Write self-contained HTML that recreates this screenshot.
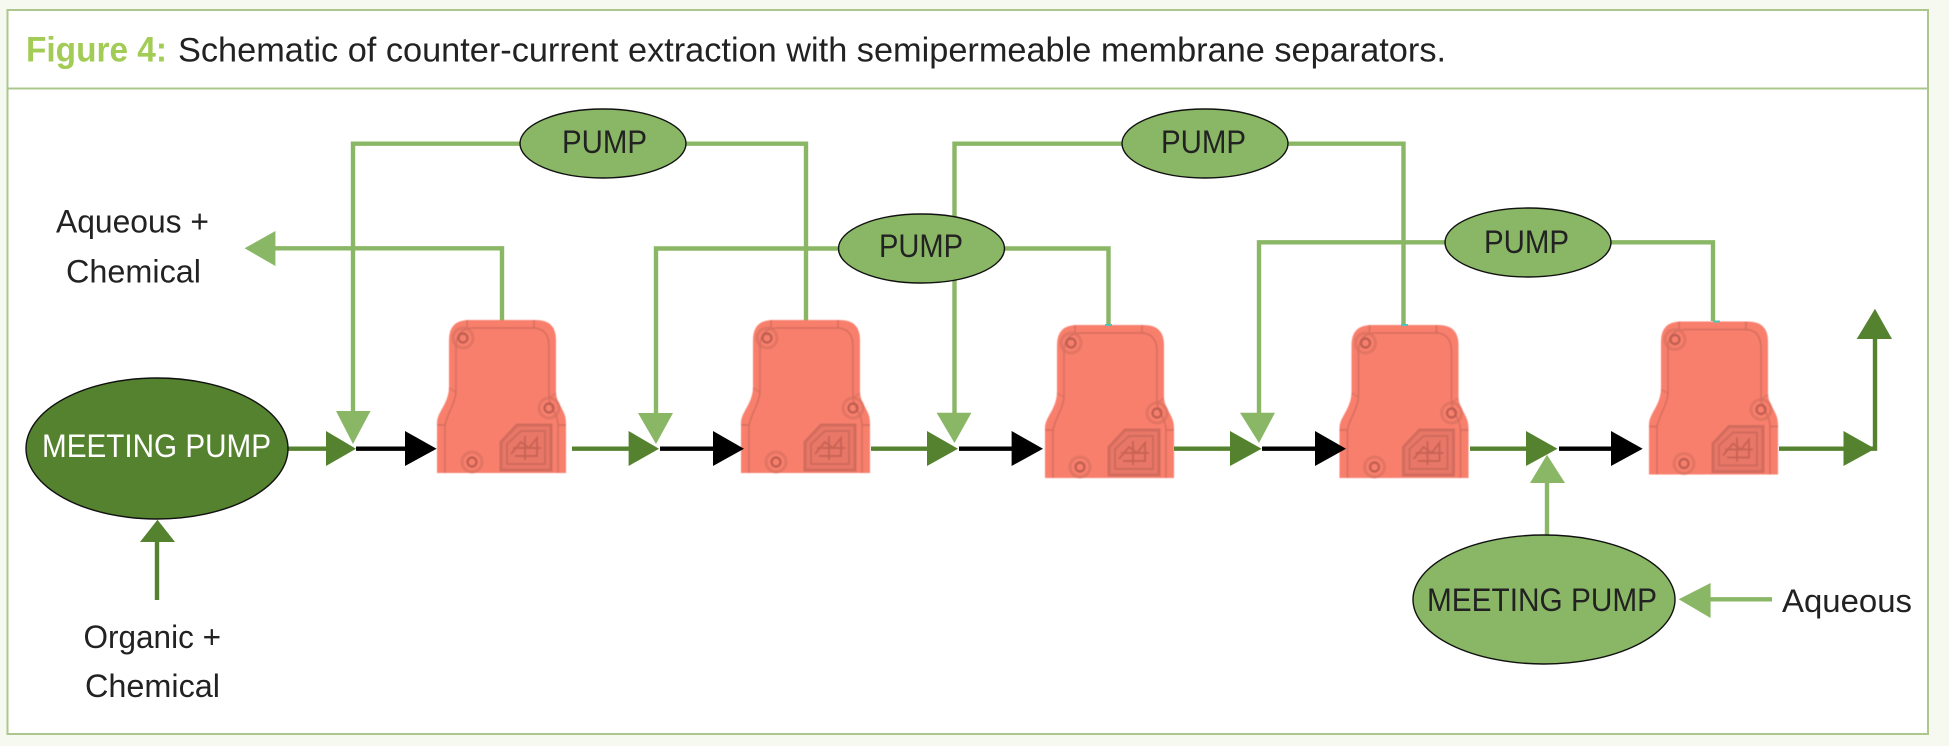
<!DOCTYPE html>
<html lang="en">
<head>
<meta charset="utf-8">
<title>Figure 4</title>
<style>
html,body{margin:0;padding:0;background:#f5f9ef;}
body{width:1949px;height:746px;overflow:hidden;}
svg{display:block;}
text{font-family:"Liberation Sans",sans-serif;fill:#222;font-size:32px;}
</style>
</head>
<body>
<svg xmlns="http://www.w3.org/2000/svg" width="1949" height="746" viewBox="0 0 1949 746">
<defs>
  <filter id="soft" x="-5%" y="-5%" width="110%" height="110%"><feGaussianBlur stdDeviation="0.6"/></filter>
  <g id="node" filter="url(#soft)">
    <path d="M0 153V103C0 92 11 85 12 68V20Q12 0 32 0H99Q119 0 119 20V73C120 85 129 90 129 103V153Z" fill="#f97f6d"/>
    <g fill="none" stroke="#cf6a5b" stroke-width="1.7">
      <path d="M8 153V105C10 94 18 84 19 72V27Q19 8 36 8H96Q112 8 112 27V78C113 88 121 94 121 105V153" stroke-opacity=".75"/>
      <path d="M0 105H8M121 105H129M30 0V8M97 0V8" stroke-opacity=".75"/>
      <path d="M12 68L19 72M119 73L112 78" stroke-opacity=".5"/>
      <g stroke="#d96f60" stroke-width="3" stroke-opacity=".7">
        <circle cx="26" cy="18" r="10"/>
        <circle cx="112" cy="88" r="10"/>
        <circle cx="35" cy="142" r="10"/>
      </g>
      <g stroke="#bf5f51" stroke-width="2.4">
        <circle cx="26" cy="18" r="4.5"/>
        <circle cx="112" cy="88" r="4.5"/>
        <circle cx="35" cy="142" r="4.5"/>
      </g>
      <path d="M64 122L80 105H114V150H64Z" fill="#e97767" stroke="#d26c5d" stroke-width="3"/>
      <path d="M70 124L84 111H108V144H70Z" stroke-width="2"/>
      <path d="M74 134L84 122L92 128L100 118V136H78M88 116V140M76 128H104" stroke="#c96455" stroke-width="2"/>
    </g>
  </g>
</defs>

<!-- frame -->
<rect x="7.5" y="10" width="1920.5" height="724" fill="#fff" stroke="#abc78d" stroke-width="2"/>
<line x1="7.5" y1="88.5" x2="1928" y2="88.5" stroke="#abc78d" stroke-width="2"/>

<!-- title -->
<text x="26" y="61.7" textLength="141" lengthAdjust="spacingAndGlyphs" style="font-size:35px;font-weight:bold;fill:#a2cc55">Figure 4:</text>
<text x="178" y="61.7" textLength="1268" lengthAdjust="spacingAndGlyphs" style="font-size:34px">Schematic of counter-current extraction with semipermeable membrane separators.</text>

<!-- light connectors -->
<g fill="none" stroke="#8ab765" stroke-width="4.4">
  <path d="M353 415V143.7H520M686 143.7H806V322"/>
  <path d="M270 248.3H502V322"/>
  <path d="M656 415V248.5H838M1005 248.5H1108.5V327"/>
  <path d="M954.5 415V143.7H1122M1288 143.7H1403.5V327"/>
  <path d="M1259 415V242.3H1445M1611 242.3H1713V321"/>
  <path d="M1547 535V480M1772 599.3H1705"/>
</g>

<!-- separators -->
<use href="#node" x="437" y="320"/>
<use href="#node" x="741" y="320"/>
<use href="#node" x="1045" y="325"/>
<use href="#node" x="1339.5" y="325"/>
<use href="#node" x="1649" y="321.5"/>
<g fill="#4fc4b8">
  <rect x="1105" y="324" width="7" height="2"/>
  <rect x="1401" y="324" width="7" height="2"/>
  <rect x="1713" y="320.5" width="7" height="2"/>
</g>

<!-- dark connectors -->
<g fill="none" stroke="#55822f" stroke-width="4.4">
  <path d="M288 448.7H330M572 448.7H632M871 448.7H930M1174 448.7H1234M1470 448.7H1530M1779 448.7H1875V336"/>
  <path d="M157 600V540"/>
</g>

<!-- black connectors -->
<g fill="none" stroke="#000" stroke-width="4.4">
  <path d="M356 448.7H410M660 448.7H716M959 448.7H1015M1262 448.7H1318M1559 448.7H1615"/>
</g>

<!-- black heads -->
<g fill="#000">
  <path d="M405 431V466L436.6 448.7Z"/>
  <path d="M713 431V466L744 448.7Z"/>
  <path d="M1011.6 431V466L1043 448.7Z"/>
  <path d="M1315 431V466L1346 448.7Z"/>
  <path d="M1611 431V466L1642.7 448.7Z"/>
</g>

<!-- dark heads -->
<g fill="#55822f">
  <path d="M326 431V466L356 448.7Z"/>
  <path d="M628.6 431V466L659 448.7Z"/>
  <path d="M927 431V466L958 448.7Z"/>
  <path d="M1230 431V466L1261.6 448.7Z"/>
  <path d="M1526 431V466L1557.5 448.7Z"/>
  <path d="M1843.5 431V466L1875 448.7Z"/>
  <path d="M1856.7 339H1892L1875 308.7Z"/>
  <path d="M140 542H175L157.5 519.7Z"/>
</g>

<!-- light heads -->
<g fill="#8ab765">
  <path d="M336 411H370.5L353 444Z"/>
  <path d="M638 413H673L656 444Z"/>
  <path d="M936.6 412.7H971.4L954.5 443Z"/>
  <path d="M1240 412.7H1275L1259 443Z"/>
  <path d="M1530 483H1565L1547 454.7Z"/>
  <path d="M1678.7 599.3L1710.6 583V618Z"/>
  <path d="M244.6 248.3L275.4 231V266Z"/>
</g>

<!-- pumps -->
<g fill="#8ab765" stroke="#111" stroke-width="1.4">
  <ellipse cx="603" cy="143.5" rx="83" ry="34.5"/>
  <ellipse cx="921.5" cy="248.5" rx="83" ry="34.5"/>
  <ellipse cx="1205" cy="143.5" rx="83" ry="34.5"/>
  <ellipse cx="1528" cy="242.5" rx="83" ry="34.5"/>
  <ellipse cx="1544" cy="599.5" rx="131" ry="64.5"/>
  <ellipse cx="157" cy="448.5" rx="131" ry="70.5" fill="#55822f"/>
</g>

<!-- labels -->
<text x="562" y="153" textLength="85" lengthAdjust="spacingAndGlyphs">PUMP</text>
<text x="879" y="257" textLength="84" lengthAdjust="spacingAndGlyphs">PUMP</text>
<text x="1161" y="153" textLength="85" lengthAdjust="spacingAndGlyphs">PUMP</text>
<text x="1484" y="253" textLength="85" lengthAdjust="spacingAndGlyphs">PUMP</text>
<text x="42" y="457" textLength="229" lengthAdjust="spacingAndGlyphs" style="fill:#fff">MEETING PUMP</text>
<text x="1427" y="611" textLength="230" lengthAdjust="spacingAndGlyphs">MEETING PUMP</text>
<text x="56" y="232.7" textLength="153" lengthAdjust="spacingAndGlyphs">Aqueous +</text>
<text x="66" y="282.7" textLength="135" lengthAdjust="spacingAndGlyphs">Chemical</text>
<text x="83.5" y="648" textLength="137.5" lengthAdjust="spacingAndGlyphs">Organic +</text>
<text x="85" y="697" textLength="135" lengthAdjust="spacingAndGlyphs">Chemical</text>
<text x="1782" y="612" textLength="130" lengthAdjust="spacingAndGlyphs">Aqueous</text>
</svg>
</body>
</html>
